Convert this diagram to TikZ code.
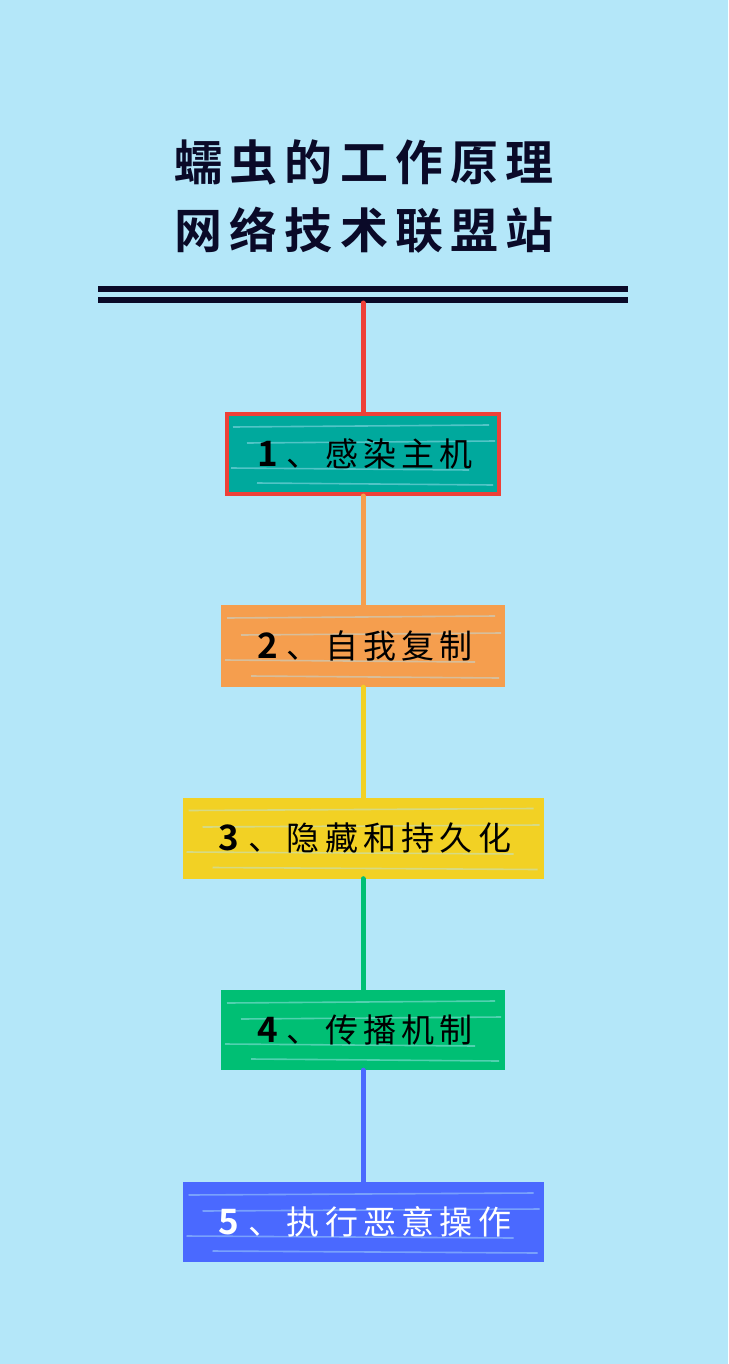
\documentclass[tikz,border=0pt]{standalone}
\usepackage{fontspec}
\usetikzlibrary{calc}
\newfontfamily\cjk{Noto Sans CJK SC}
\newfontfamily\cjkb{Noto Sans CJK SC Bold}
\definecolor{bg}{HTML}{B4E7F9}
\definecolor{navy}{HTML}{0A0A28}
\definecolor{teal}{HTML}{00A99D}
\definecolor{redc}{HTML}{EE4038}
\definecolor{orangec}{HTML}{F59E4E}
\definecolor{yellowc}{HTML}{F2D124}
\definecolor{greenc}{HTML}{00BF74}
\definecolor{bluec}{HTML}{4A69FF}
\newcommand{\dg}[1]{{\cjkb\fontsize{35pt}{36pt}\selectfont #1}\hspace{9pt}}
\tikzset{
  stepbox/.style={rectangle, minimum height=80pt, inner sep=0pt,
    font={\cjk\addfontfeatures{LetterSpace=16}\fontsize{33pt}{36pt}\selectfont},
    path picture={
      \draw[bg, opacity=0.45, line width=1.6pt]
        ($(path picture bounding box.north west)+(6pt,-13pt)$) -- ($(path picture bounding box.north east)+(-10pt,-11pt)$)
        ($(path picture bounding box.west)+(4pt,-14pt)$) -- ($(path picture bounding box.east)+(-30pt,-16pt)$)
        ($(path picture bounding box.west)+(20pt,11pt)$) -- ($(path picture bounding box.east)+(-4pt,13pt)$)
        ($(path picture bounding box.south west)+(30pt,11pt)$) -- ($(path picture bounding box.south east)+(-6pt,9pt)$);
    }},
  title/.style={font={\cjkb\addfontfeatures{LetterSpace=15}\fontsize{48pt}{54pt}\selectfont}, text=navy, inner sep=0pt},
  conn/.style={line width=5pt, line cap=round},
}
\begin{document}
\begin{tikzpicture}[x=1pt,y=-1pt]
\useasboundingbox (0,0) rectangle (728,1364);
\fill[bg] (0,0) rectangle (728,1364);
\node[title] (t1) at (364,162) {蠕虫的工作原理};
\node[title] (t2) at (364,230) {网络技术联盟站};
\coordinate (la) at (98,289);
\coordinate (lb) at (628,289);
\coordinate (lc) at (98,300);
\coordinate (ld) at (628,300);
\draw[navy, line width=6pt] (la) -- (lb);
\draw[navy, line width=6pt] (lc) -- (ld);
\coordinate (top) at (363,303);
\node[stepbox, fill=teal, draw=redc, line width=4pt, minimum width=272pt, text=black] (b1) at (363,454) {\hspace*{4pt}\dg{1}、感染主机};
\node[stepbox, fill=orangec, minimum width=284pt, minimum height=82pt, text=black] (b2) at (363,646) {\hspace*{4pt}\dg{2}、自我复制};
\node[stepbox, fill=yellowc, minimum width=361pt, minimum height=81pt, text=black] (b3) at (363,838) {\hspace*{4pt}\dg{3}、隐藏和持久化};
\node[stepbox, fill=greenc, minimum width=284pt, text=black] (b4) at (363,1030) {\hspace*{4pt}\dg{4}、传播机制};
\node[stepbox, fill=bluec, minimum width=361pt, text=white] (b5) at (363,1222) {\hspace*{4pt}\dg{5}、执行恶意操作};
\draw[conn, redc] (top) -- (b1.north);
\draw[conn, orangec] (b1.south) -- (b2.north);
\draw[conn, yellowc] (b2.south) -- (b3.north);
\draw[conn, greenc] (b3.south) -- (b4.north);
\draw[conn, bluec] (b4.south) -- (b5.north);
\end{tikzpicture}
\end{document}
